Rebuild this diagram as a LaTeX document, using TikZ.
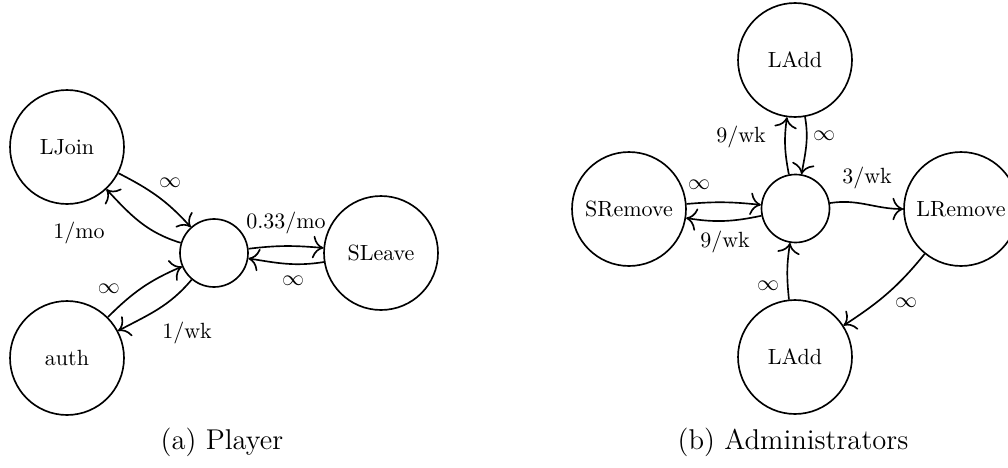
\documentclass[tikz,border=0pt]{standalone}
\usetikzlibrary{arrows.meta}
\begin{document}
\begin{tikzpicture}[x=0.4545pt,y=0.4545pt,
  big/.style={draw,circle,line width=0.75pt,minimum size=51.8pt,inner sep=0pt},
  small/.style={draw,circle,line width=0.75pt,minimum size=30.9pt,inner sep=0pt},
  arr/.style={-{To[scale=1.5]},line width=0.75pt},
  lbl/.style={inner sep=0pt},
  captext/.style={font=\fontsize{13}{15}\selectfont,inner sep=0pt}]
\useasboundingbox (0,0) rectangle (1008,467);
% (a) Player
\node[big] (LJoin) at (67,320) {LJoin};
\node[big] (auth) at (67,109) {auth};
\node[small] (c1) at (214,214) {};
\node[big] (SLeave) at (381,214) {SLeave};
\draw[arr] (LJoin) to[out=-27,in=132] (c1);
\draw[arr] (c1) to[out=163,in=-47] (LJoin);
\draw[arr] (auth) to[out=45,in=203] (c1);
\draw[arr] (c1) to[out=230,in=28] (auth);
\draw[arr] (c1) to[out=7,in=175] (SLeave);
\draw[arr] (SLeave) to[out=189,in=-9] (c1);
\node[lbl] (l1) at (170,284) {$\infty$};
\node[lbl] (l2) at (79,234) {1/mo};
\node[lbl] (l3) at (109,178) {$\infty$};
\node[lbl] (l4) at (187,134) {1/wk};
\node[lbl] (l5) at (286,244) {0.33/mo};
\node[lbl] (l6) at (293,186) {$\infty$};
\node[captext] (capa) at (222,25) {(a) Player};
% (b) Administrators
\node[big] (LAddT) at (795,407) {LAdd};
\node[big] (SRem) at (629,258) {SRemove};
\node[small] (c2) at (795.5,258.5) {};
\node[big] (LRem) at (961,258) {LRemove};
\node[big] (LAddB) at (795,110) {LAdd};
\draw[arr] (c2) to[out=101,in=262] (LAddT);
\draw[arr] (LAddT) to[out=-80,in=80] (c2);
\draw[arr] (SRem) to[out=5,in=174] (c2);
\draw[arr] (c2) to[out=192,in=-9] (SRem);
\draw[arr] (c2) to[out=9,in=180] (LRem);
\draw[arr] (LAddB) to[out=96,in=261] (c2);
\draw[arr] (LRem) to[out=231,in=33] (LAddB);
\node[lbl] (m1) at (741,330) {9/wk};
\node[lbl] (m2) at (824,331) {$\infty$};
\node[lbl] (m3) at (699,282) {$\infty$};
\node[lbl] (m4) at (725,225) {9/wk};
\node[lbl] (m5) at (867,289) {3/wk};
\node[lbl] (m6) at (768,181) {$\infty$};
\node[lbl] (m7) at (906,164) {$\infty$};
\node[captext] (capb) at (793,25) {(b) Administrators};
\end{tikzpicture}
\end{document}
